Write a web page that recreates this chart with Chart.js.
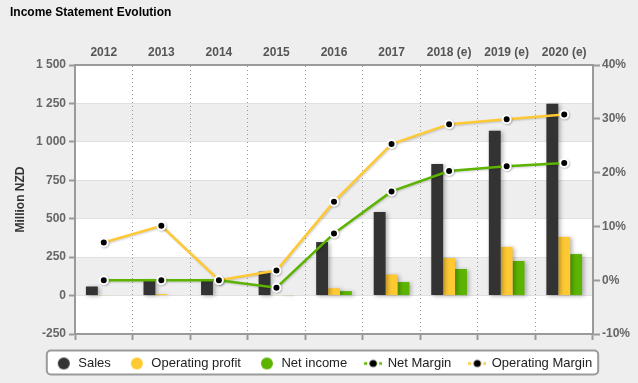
<!DOCTYPE html>
<html>
<head>
<meta charset="utf-8">
<script src="https://cdn.jsdelivr.net/npm/chart.js@4/dist/chart.umd.min.js"></script>
<style>
html,body{margin:0;padding:0;background:#eeeeee;}
#wrap{width:638px;height:383px;}
</style>
</head>
<body>
<div id="wrap"><canvas id="c" width="638" height="383"></canvas></div>
<script>
const categories = ['2012','2013','2014','2015','2016','2017','2018 (e)','2019 (e)','2020 (e)'];
const sales = [59, 96, 98, 156, 348, 543, 856, 1072, 1248];
const operatingProfit = [4, 10, 0, 3, 48, 137, 244, 317, 382];
const netIncome = [0, 0, 0, -2, 29, 88, 173, 225, 270];
const netMargin = [0, 0, 0, -1.4, 8.7, 16.5, 20.3, 21.2, 21.8];
const operatingMargin = [7.0, 10.1, 0, 1.8, 14.6, 25.3, 29.0, 29.9, 30.8];
const leftTickLabels = ['-250','0','250','500','750','1 000','1 250','1 500'];
const rightTickLabels = ['-10%','0%','10%','20%','30%','40%'];

const FONT = 'Arial, "Liberation Sans", sans-serif';
const C_SALES = '#333333', C_OP = '#FFC933', C_NET = '#5CB300';
const PAD_LEFT = 10;

function circleIcon(color){
  const cv = document.createElement('canvas'); cv.width = 16; cv.height = 16;
  const g = cv.getContext('2d');
  g.fillStyle = color; g.beginPath(); g.arc(8, 8, 6, 0, Math.PI*2); g.fill();
  return cv;
}
function lineIcon(color){
  const cv = document.createElement('canvas'); cv.width = 18; cv.height = 12;
  const g = cv.getContext('2d');
  g.strokeStyle = color; g.lineWidth = 2.5; g.setLineDash([3,2]);
  g.beginPath(); g.moveTo(0, 6); g.lineTo(18, 6); g.stroke();
  g.fillStyle = '#000'; g.beginPath(); g.arc(9, 6, 3.5, 0, Math.PI*2); g.fill();
  return cv;
}
const icons = [circleIcon(C_SALES), circleIcon(C_OP), circleIcon(C_NET), lineIcon(C_NET), lineIcon(C_OP)];

const bgPlugin = {
  id: 'bg',
  beforeDraw(chart){
    const ctx = chart.ctx, a = chart.chartArea, y = chart.scales.y;
    ctx.save();
    ctx.fillStyle = '#eeeeee';
    ctx.fillRect(0, 0, chart.width, chart.height);
    ctx.fillStyle = '#ffffff';
    ctx.fillRect(a.left, a.top, a.right - a.left, a.bottom - a.top);
    const ticks = y.ticks;
    for (let i = 0; i < ticks.length - 1; i++) {
      if (i % 2 === 1) {
        const y1 = y.getPixelForValue(ticks[i].value), y2 = y.getPixelForValue(ticks[i+1].value);
        ctx.fillStyle = '#eeeeee';
        ctx.fillRect(a.left, y2, a.right - a.left, y1 - y2);
      }
    }
    // legend frame
    const hb = chart.legend.legendHitBoxes;
    if (hb && hb.length) {
      let l = Infinity, r = -Infinity;
      hb.forEach(h => { l = Math.min(l, h.left); r = Math.max(r, h.left + h.width); });
      const cy = hb[0].top + hb[0].height / 2;
      const x0 = l - 9, x1 = r + 6, y0 = cy - 13, y1 = cy + 11;
      ctx.beginPath();
      ctx.roundRect(x0, y0, x1 - x0, y1 - y0, 4);
      ctx.fillStyle = '#ffffff'; ctx.fill();
      ctx.lineWidth = 2; ctx.strokeStyle = '#9a9a9a'; ctx.stroke();
    }
    ctx.restore();
  }
};

const shadowPlugin = {
  id: 'shadow',
  beforeDatasetDraw(chart, args){
    const ctx = chart.ctx;
    ctx.save();
    if (args.meta.type === 'bar') {
      ctx.shadowColor = 'rgba(0,0,0,0.3)'; ctx.shadowBlur = 4; ctx.shadowOffsetX = 2; ctx.shadowOffsetY = 1;
    } else {
      ctx.shadowColor = 'rgba(0,0,0,0.18)'; ctx.shadowBlur = 2; ctx.shadowOffsetX = 1; ctx.shadowOffsetY = 1;
    }
  },
  afterDatasetDraw(chart){ chart.ctx.restore(); }
};

const barCommon = { order: 2, borderWidth: 0, categoryPercentage: 0.62, barPercentage: 1.0, yAxisID: 'y', xAxisID: 'x' };
const lineCommon = { type: 'line', order: 0, yAxisID: 'y1', xAxisID: 'x', borderWidth: 2.5, tension: 0,
  pointRadius: 4, pointHoverRadius: 4, pointBackgroundColor: '#000', pointBorderColor: '#fff', pointBorderWidth: 2, fill: false };

new Chart(document.getElementById('c'), {
  type: 'bar',
  data: {
    labels: categories,
    datasets: [
      Object.assign({ label: 'Sales', data: sales, backgroundColor: C_SALES }, barCommon),
      Object.assign({ label: 'Operating profit', data: operatingProfit, backgroundColor: C_OP }, barCommon),
      Object.assign({ label: 'Net income', data: netIncome, backgroundColor: C_NET }, barCommon),
      Object.assign({ label: 'Net Margin', data: netMargin, borderColor: C_NET, backgroundColor: C_NET }, lineCommon),
      Object.assign({ label: 'Operating Margin', data: operatingMargin, borderColor: C_OP, backgroundColor: C_OP }, lineCommon, { order: 1 })
    ]
  },
  options: {
    responsive: false,
    animation: false,
    events: [],
    layout: { padding: { left: PAD_LEFT, right: 0, top: 0, bottom: 3 } },
    plugins: {
      tooltip: { enabled: false },
      title: {
        display: true, text: 'Income Statement Evolution', align: 'start', color: '#000',
        font: { family: FONT, size: 12, weight: 'bold' }, padding: { top: 5, bottom: 5 }
      },
      legend: {
        display: true, position: 'bottom',
        labels: {
          usePointStyle: true, pointStyleWidth: 16, boxHeight: 13, padding: 18, color: '#222',
          font: { family: FONT, size: 13 },
          generateLabels: (chart) => chart.data.datasets.map((ds, i) => ({
            text: ds.label, pointStyle: icons[i], fillStyle: 'transparent', strokeStyle: 'transparent',
            lineWidth: 0, hidden: false, datasetIndex: i, fontColor: '#222', rotation: 0
          }))
        }
      }
    },
    scales: {
      x: {
        type: 'category', position: 'top', offset: true,
        grid: { display: true, offset: true, drawTicks: false, tickLength: 0, color: '#999', lineWidth: 1, drawOnChartArea: true },
        border: { display: true, color: '#9a9a9a', width: 2, dash: [1, 3] },
        ticks: { color: '#555', font: { family: FONT, size: 12, weight: 'bold' }, padding: 5, maxRotation: 0, autoSkip: false },
        afterFit: s => { s.height = 40.6; }
      },
      xb: {
        type: 'category', position: 'bottom', offset: true,
        grid: { display: true, offset: true, drawOnChartArea: false, drawTicks: true, tickLength: 6, tickColor: '#9a9a9a', tickWidth: 2 },
        border: { display: true, color: '#9a9a9a', width: 2 },
        ticks: { display: false },
        afterFit: s => { s.height = 5; }
      },
      y: {
        position: 'left', min: -250, max: 1500,
        ticks: { stepSize: 250, color: '#666', font: { family: FONT, size: 12, weight: 'bold' }, padding: 3,
          callback: (v, i) => leftTickLabels[i] },
        grid: { color: '#e0e0e0', lineWidth: 1, tickColor: '#9a9a9a', tickLength: 6, tickWidth: 2 },
        border: { display: true, color: '#9a9a9a', width: 2 },
        title: { display: true, text: 'Million NZD', color: '#333', font: { family: FONT, size: 12, weight: 'bold' }, padding: { top: 3, bottom: 0 } },
        afterFit: s => { s.width = 75 - PAD_LEFT; }
      },
      y1: {
        position: 'right', min: -10, max: 40,
        ticks: { stepSize: 10, color: '#666', font: { family: FONT, size: 12, weight: 'bold' }, padding: 2,
          callback: (v, i) => rightTickLabels[i] },
        grid: { drawOnChartArea: false, tickColor: '#9a9a9a', tickLength: 7, tickWidth: 2 },
        border: { display: true, color: '#9a9a9a', width: 2 },
        afterFit: s => { s.width = 45; }
      }
    }
  },
  plugins: [bgPlugin, shadowPlugin]
});
</script>
</body>
</html>
